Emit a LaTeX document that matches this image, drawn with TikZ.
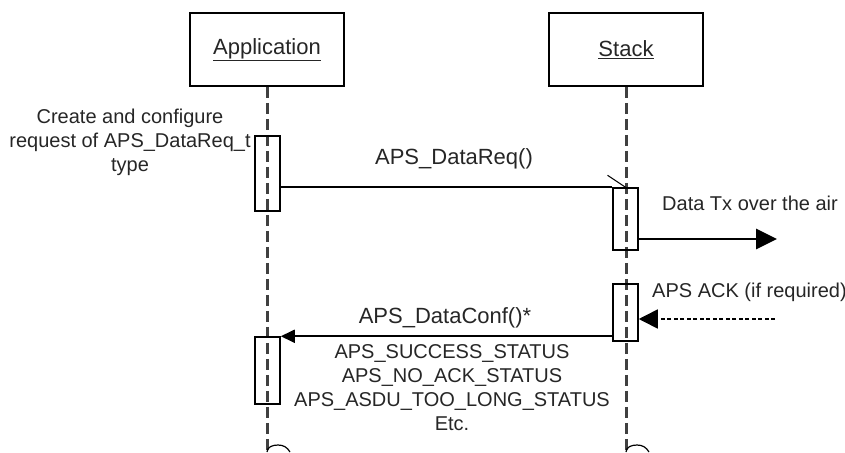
\documentclass[tikz,border=0pt]{standalone}
\usepackage{fontspec}
\setmainfont{Liberation Sans}
\usetikzlibrary{arrows.meta,calc}
\begin{document}
\begin{tikzpicture}[x=1pt,y=-1pt,
  every node/.style={font=\fontsize{20pt}{24pt}\selectfont, inner sep=0pt, text=black!85},
  bigfont/.style={font=\fontsize{22pt}{26pt}\selectfont},
  actor/.style={draw=black, line width=1.8pt, minimum width=154pt, minimum height=73pt, bigfont},
  actbox/.style={draw=black, line width=1.5pt, minimum width=25pt},
  lifeline/.style={line width=3pt, dash pattern=on 11.5pt off 4.5pt, black!75},
  msg/.style={line width=1.8pt},
  bighead/.style={-{Triangle[length=21pt,width=20pt]}},
  smallhead/.style={-{Triangle[length=14pt,width=13pt]}},
  ackhead/.style={-{Triangle[length=19pt,width=19pt]}},
  note/.style={align=center},
]
\useasboundingbox (0,0) rectangle (845,452);

% participants
\node[actor] (app) at (267,49.5) {\underline{Application}};
\node[actor] (stk) at (626,49.5) {\underline{Stack}};

% lifelines
\coordinate (append) at (267,452);
\coordinate (stkend) at (626,452);
\draw[lifeline] (app.south) -- (append);
\draw[lifeline] (stk.south) -- (stkend);

% activation bars
\node[actbox, minimum height=75pt] (a1) at (267.5,173.5) {};
\node[actbox, minimum height=62pt] (s1) at (625.5,219) {};
\node[actbox, minimum height=57pt] (s2) at (625.5,312.5) {};
\node[actbox, minimum height=67pt] (a2) at (267.5,370.5) {};

% request preparation note
\node[note] (prep) at (130,142) {Create and configure\\request of APS\_DataReq\_t\\type};

% APS_DataReq()
\draw[msg] (a1.east |- s1.north) -- (s1.north west);
\draw[line width=1pt] ($(s1.north)+(-18,-12)$) -- (s1.north);
\node[bigfont] (req) at (454,159) {APS\_DataReq()};

% transmission over the air
\coordinate (air) at (777,239);
\draw[line width=2.8pt, bighead] (s1.east |- air) -- (air);
\node[anchor=west] (tx) at (662,203) {Data Tx over the air};

% acknowledgement from the air
\coordinate (ackfrom) at (775,319);
\draw[line width=1.6pt, dash pattern=on 4pt off 2.5pt, ackhead] (ackfrom) -- (s2.east |- ackfrom);
\node[anchor=west] (ack) at (652,292) {APS ACK (if required)};

% APS_DataConf()*
\draw[msg, smallhead] (s2.west |- a2.north) -- (a2.north east);
\node[bigfont] (conf) at (445,318) {APS\_DataConf()*};
\node[note] (status) at (452,387.5)
  {APS\_SUCCESS\_STATUS\\APS\_NO\_ACK\_STATUS\\APS\_ASDU\_TOO\_LONG\_STATUS\\Etc.};

% arcs at the lower edge
\draw[line width=1.2pt] (append) to[out=90,in=180] ($(append)+(11,-7)$) to[out=0,in=120] ($(append)+(23,0)$);
\draw[line width=1.2pt] (stkend) to[out=90,in=180] ($(stkend)+(11,-7)$) to[out=0,in=120] ($(stkend)+(23,0)$);
\end{tikzpicture}
\end{document}
